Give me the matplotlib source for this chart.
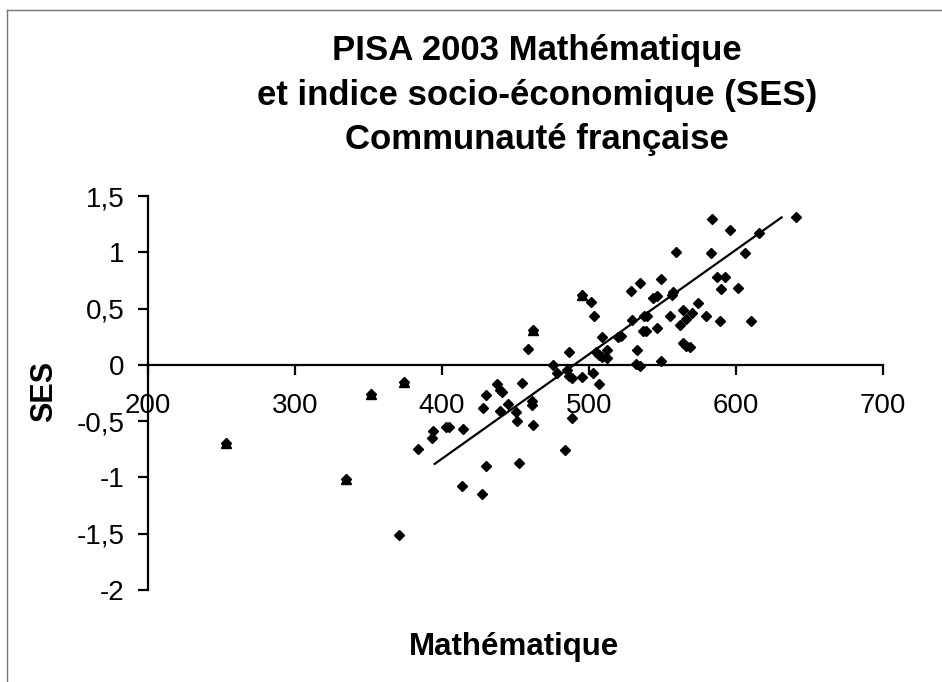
"""
PISA 2003 — score en mathématique vs indice socio-économique (SES),
Communauté française. Nuage de points + droite de tendance.
"""
import matplotlib
matplotlib.use("Agg")
import matplotlib.pyplot as plt
from matplotlib.lines import Line2D

# points (score math, SES)
maths = [371, 383.9, 393.4, 393.6, 402.5, 405, 414.3, 413.8, 427.4, 430,
         427.6, 430.1, 437.6, 439.5, 440.6, 454.4, 444.9, 439.5, 450.3, 461.4,
         461.4, 451.2, 462.1, 488.4, 483.7, 452.4, 478.2, 484.8, 486.4, 488.2,
         495.4, 502.4, 506.8, 475.3, 486.4, 458.7, 501.4, 503.2, 508.8, 505,
         507, 509, 512, 512, 520, 522, 528.6, 535, 529.5, 532.4,
         532, 535, 537.6, 539.6, 536.5, 538.8, 543.8, 546.4, 546, 548.7,
         548.7, 556.5, 557.4, 555, 559, 562, 564, 566, 570, 574.4,
         564, 566, 569, 579.6, 583.5, 582.7, 586.8, 592.5, 589.8, 589.3,
         595.6, 601.1, 606.1, 610, 615.6, 640.6]
ses = [-1.51, -0.75, -0.65, -0.59, -0.55, -0.55, -0.57, -1.08, -1.15, -0.90,
       -0.385, -0.27, -0.17, -0.22, -0.24, -0.16, -0.35, -0.41, -0.415, -0.32,
       -0.36, -0.50, -0.53, -0.47, -0.76, -0.87, -0.07, -0.05, -0.10, -0.12,
       -0.11, -0.075, -0.17, 0.0, 0.11, 0.14, 0.56, 0.435, 0.25, 0.11,
       0.09, 0.07, 0.06, 0.13, 0.25, 0.26, 0.66, 0.73, 0.40, 0.13,
       0.01, -0.01, 0.43, 0.43, 0.30, 0.30, 0.59, 0.61, 0.33, 0.76,
       0.03, 0.62, 0.65, 0.43, 1.0, 0.35, 0.49, 0.41, 0.46, 0.55,
       0.19, 0.17, 0.16, 0.435, 1.30, 0.99, 0.78, 0.78, 0.675, 0.39,
       1.2, 0.68, 0.99, 0.39, 1.17, 1.31]

# points doublés (marqueur en forme de maison)
maths_dbl = [253.3, 334.5, 351.9, 374, 462, 495.4]
ses_dbl = [-0.69, -1.01, -0.26, -0.15, 0.31, 0.62]

# droite de tendance
trend_x = [395, 631]
trend_y = [-0.88, 1.31]

xticks = [200, 300, 400, 500, 600, 700]
yticks = [1.5, 1, 0.5, 0, -0.5, -1, -1.5, -2]
ytick_labels = ["1,5", "1", "0,5", "0", "-0,5", "-1", "-1,5", "-2"]

plt.rcParams["font.family"] = ["Liberation Sans", "DejaVu Sans"]

fig = plt.figure(figsize=(9.42, 6.82), dpi=100)
ax = fig.add_axes([148 / 942, 1 - 590 / 682, 735 / 942, 394 / 682])

ax.plot(trend_x, trend_y, color="black", lw=1.6, zorder=2)
ax.plot(maths, ses, ls="none", marker="D", ms=5, color="black", zorder=3)
ax.plot(maths_dbl, ses_dbl, ls="none", marker="D", ms=5, color="black", zorder=3)
ax.plot(maths_dbl, ses_dbl, ls="none", marker="^", ms=6.8, color="black", zorder=3)

ax.set_xlim(200, 700)
ax.set_ylim(-2, 1.5)
ax.spines["top"].set_visible(False)
ax.spines["right"].set_visible(False)
ax.spines["bottom"].set_position(("data", 0))
for s in ("left", "bottom"):
    ax.spines[s].set_linewidth(1.6)

ax.set_xticks(xticks)
ax.set_xticklabels([str(v) for v in xticks])
ax.set_yticks(yticks)
ax.set_yticklabels(ytick_labels)
ax.tick_params(axis="both", direction="out", length=7, width=1.6, labelsize=20)
ax.tick_params(axis="x", pad=13)
ax.tick_params(axis="y", pad=10)

fig.text(537 / 942, 1 - 95 / 682,
         "PISA 2003 Mathématique\net indice socio-économique (SES)\nCommunauté française",
         ha="center", va="center", fontsize=25, fontweight="bold", linespacing=1.43)
fig.text(44 / 942, 1 - 391 / 682, "SES", rotation=90, ha="center", va="center",
         fontsize=22, fontweight="bold")
fig.text(514 / 942, 1 - 655 / 682, "Mathématique", ha="center", va="baseline",
         fontsize=22.5, fontweight="bold")

# cadre gris du graphique
fig.add_artist(Line2D([7 / 942, 7 / 942], [0, 1 - 10 / 682], color="#777777", lw=1))
fig.add_artist(Line2D([7 / 942, 1], [1 - 10 / 682, 1 - 10 / 682], color="#777777", lw=1))

fig.savefig("out.png", dpi=100)
